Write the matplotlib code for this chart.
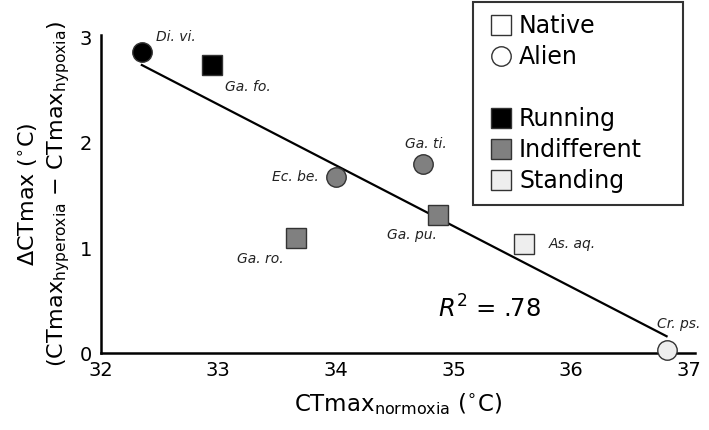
import numpy as np
import matplotlib
matplotlib.use("Agg")
import matplotlib.pyplot as plt
from matplotlib.lines import Line2D

# species abbreviations, CTmax normoxia and delta CTmax (hyperoxia - hypoxia)
species = ["Di. vi.", "Ga. fo.", "Ec. be.", "Ga. ti.", "Ga. ro.", "Ga. pu.", "As. aq.", "Cr. ps."]
ctmax_norm = [32.35, 32.95, 34.00, 34.74, 33.66, 34.87, 35.60, 36.81]
delta_ctmax = [2.87, 2.74, 1.68, 1.80, 1.10, 1.31, 1.04, 0.03]
origin = ["Alien", "Native", "Alien", "Alien", "Native", "Native", "Native", "Alien"]
behaviour = ["Running", "Running", "Indifferent", "Indifferent", "Indifferent",
             "Indifferent", "Standing", "Standing"]
r2_text = "$R^2$ = .78"

beh_colors = {"Running": "#000000", "Indifferent": "#808080", "Standing": "#eeeeee"}
origin_markers = {"Native": "s", "Alien": "o"}

# label offsets in pixels and alignment
label_pos = {
    "Di. vi.": (14, 15, "left"),
    "Ga. fo.": (13, -22, "left"),
    "Ec. be.": (-17, 0, "right"),
    "Ga. ti.": (3, 20, "center"),
    "Ga. ro.": (-12, -21, "right"),
    "Ga. pu.": (-26, -20, "center"),
    "As. aq.": (25, 0, "left"),
    "Cr. ps.": (-10, 26, "left"),
}

fig = plt.figure(figsize=(7.09, 4.30), dpi=100)
ax = fig.add_axes([0.142, 0.179, 0.838, 0.740])

x = np.array(ctmax_norm)
y = np.array(delta_ctmax)
slope, intercept = np.polyfit(x, y, 1)
xs = np.array([x.min(), x.max()])
ax.plot(xs, slope * xs + intercept, color="black", lw=1.6, zorder=2)

for name, xi, yi, org, beh in zip(species, ctmax_norm, delta_ctmax, origin, behaviour):
    ax.plot(xi, yi, marker=origin_markers[org], ms=14, mfc=beh_colors[beh],
            mec="#333333", mew=1.0, ls="none", zorder=3, clip_on=False)
    dx, dy, ha = label_pos[name]
    ax.annotate(name, (xi, yi), xytext=(dx, dy), textcoords="offset pixels",
                ha=ha, va="center", fontsize=10, style="italic", color="#222222")

ax.text(35.3, 0.42, r2_text, fontsize=17.5, ha="center", va="center")

ax.set_xlim(32, 37.05)
ax.set_ylim(0, 3.03)
ax.set_xticks([32, 33, 34, 35, 36, 37])
ax.set_yticks([0, 1, 2, 3])
ax.tick_params(length=0, labelsize=14, pad=6)
for side in ["top", "right"]:
    ax.spines[side].set_visible(False)
for side in ["left", "bottom"]:
    ax.spines[side].set_linewidth(1.8)

ax.set_xlabel(r"CTmax$_{\mathregular{normoxia}}$ ($^{\circ}$C)", fontsize=16.5, labelpad=8)
ax.set_ylabel("$\\Delta$CTmax ($^{\\circ}$C)\n(CTmax$_{\\mathregular{hyperoxia}}$ \u2212 CTmax$_{\\mathregular{hypoxia}}$)",
              fontsize=16, labelpad=6, linespacing=1.25)

handles = [
    Line2D([], [], marker="s", ms=14, mfc="white", mec="#333333", ls="none"),
    Line2D([], [], marker="o", ms=14, mfc="white", mec="#333333", ls="none"),
    Line2D([], [], marker="s", ms=14, mfc="none", mec="none", ls="none"),
    Line2D([], [], marker="s", ms=14, mfc=beh_colors["Running"], mec="#333333", ls="none"),
    Line2D([], [], marker="s", ms=14, mfc=beh_colors["Indifferent"], mec="#333333", ls="none"),
    Line2D([], [], marker="s", ms=14, mfc=beh_colors["Standing"], mec="#333333", ls="none"),
]
labels = ["Native", "Alien", " ", "Running", "Indifferent", "Standing"]
leg = fig.legend(handles, labels, loc="upper left",
                 bbox_to_anchor=(473 / 709, 1 - 205 / 430, 210 / 709, 203 / 430),
                 mode="expand", fontsize=17, frameon=True, fancybox=False,
                 edgecolor="black", handlelength=1.4, handletextpad=0.05,
                 labelspacing=0.3, borderpad=0.5, borderaxespad=0.0)
leg.get_frame().set_linewidth(1.5)

fig.savefig("out.png", dpi=100)
